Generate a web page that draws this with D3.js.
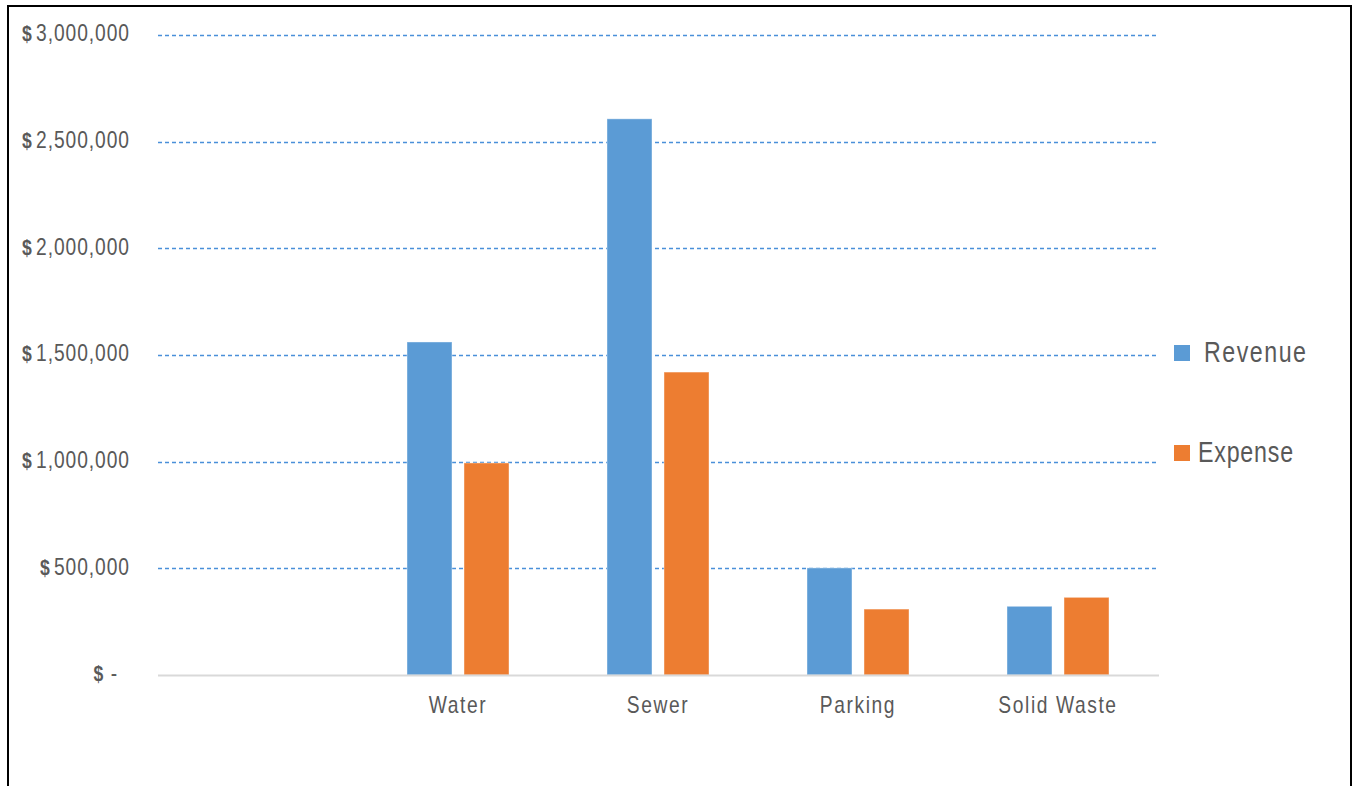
<!DOCTYPE html>
<html>
<head>
<meta charset="utf-8">
<script src="https://cdn.jsdelivr.net/npm/d3@7"></script>
<style>
  body { margin: 0; background: #fff; }
  text { font-family: "Liberation Sans", Arial, sans-serif; fill: #595959; }
</style>
</head>
<body>
<div id="bar-chart"></div>
<script>
const categories = ["", "Water", "Sewer", "Parking", "Solid Waste"];
const revenue = [null, 1561000, 2607000, 502000, 322000];
const expense = [null, 994000, 1420000, 309000, 364000];
const seriesNames = ["Revenue", "Expense"];
const yTicks = [0, 500000, 1000000, 1500000, 2000000, 2500000, 3000000];

function createChart() {
    const width = 1354;
    const height = 786;
    const margin = {top: 35, right: 196, bottom: 111, left: 158};
    const colors = {Revenue: "#5b9bd5", Expense: "#ed7d31"};
    const narrow = 0.8; // squeeze text horizontally, no narrow font installed

    const data = categories.map((c, i) => ({name: c, Revenue: revenue[i], Expense: expense[i]}));

    const x = d3.scaleBand().domain(categories).range([margin.left, width - margin.right])
        .paddingInner(0.49).paddingOuter(0.245);
    const x1 = d3.scaleBand().domain(seriesNames).range([0, x.bandwidth()]).paddingInner(0.211);
    const y = d3.scaleLinear().domain([0, 3000000]).range([height - margin.bottom, margin.top]);

    const fmt = d => d === 0 ? "-" : d3.format(",")(d);

    const svg = d3.select("#bar-chart")
        .append("svg")
        .attr("width", width)
        .attr("height", height);

    // outer frame
    svg.append("rect")
        .attr("x", 8).attr("y", 6)
        .attr("width", 1343).attr("height", 800)
        .attr("fill", "none").attr("stroke", "#000").attr("stroke-width", 2);

    // gridlines
    svg.append("g")
        .selectAll("line")
        .data(yTicks.filter(d => d > 0))
        .join("line")
        .attr("x1", margin.left).attr("x2", width - margin.right)
        .attr("y1", d => Math.round(y(d)) + 0.5).attr("y2", d => Math.round(y(d)) + 0.5)
        .attr("stroke", "#4a90d9").attr("stroke-width", 1.3)
        .attr("stroke-dasharray", "4,3");

    // y labels
    const yl = svg.append("g")
        .selectAll("text")
        .data(yTicks)
        .join("text")
        .attr("transform", d => `translate(${d === 0 ? 118 : 130},${y(d) - 2}) scale(${narrow},1)`)
        .attr("dy", "0.35em")
        .attr("text-anchor", "end")
        .style("font-size", "24px")
        .style("letter-spacing", "1.2px");
    yl.append("tspan").style("font-weight", "bold").style("font-size", "22px").text("$");
    yl.append("tspan").attr("dx", d => d === 0 ? 8 : 4).text(d => fmt(d));

    // bars
    svg.append("g")
        .selectAll("g")
        .data(data.filter(d => d.Revenue != null))
        .join("g")
        .attr("transform", d => `translate(${x(d.name)},0)`)
        .selectAll("rect")
        .data(d => seriesNames.map(k => ({key: k, value: d[k]})))
        .join("rect")
        .attr("x", d => x1(d.key))
        .attr("y", d => y(d.value))
        .attr("width", x1.bandwidth())
        .attr("height", d => y(0) - y(d.value))
        .attr("fill", d => colors[d.key])
        .attr("stroke", "#fff").attr("stroke-opacity", 0.4).attr("stroke-width", 1);

    // baseline
    svg.append("line")
        .attr("x1", margin.left).attr("x2", width - margin.right + 1)
        .attr("y1", y(0) + 0.5).attr("y2", y(0) + 0.5)
        .attr("stroke", "#d9d9d9").attr("stroke-width", 2);

    // category labels
    svg.append("g")
        .selectAll("text")
        .data(categories.filter(c => c !== ""))
        .join("text")
        .attr("transform", d => `translate(${x(d) + x.bandwidth() / 2},713) scale(${narrow},1)`)
        .attr("text-anchor", "middle")
        .style("font-size", "24px")
        .style("letter-spacing", "2px")
        .text(d => d);

    // legend
    const legend = svg.append("g")
        .selectAll("g")
        .data(seriesNames)
        .join("g")
        .attr("transform", (d, i) => `translate(1174,${345 + i * 100})`);
    legend.append("rect")
        .attr("width", 16).attr("height", 16)
        .attr("fill", d => colors[d]);
    legend.append("text")
        .attr("transform", (d, i) => `translate(${i === 0 ? 30 : 24},17) scale(${narrow},1)`)
        .style("font-size", "29px")
        .style("letter-spacing", (d, i) => i === 0 ? "1.9px" : "1px")
        .text(d => d);

    return svg.node();
}

createChart();
</script>
</body>
</html>
